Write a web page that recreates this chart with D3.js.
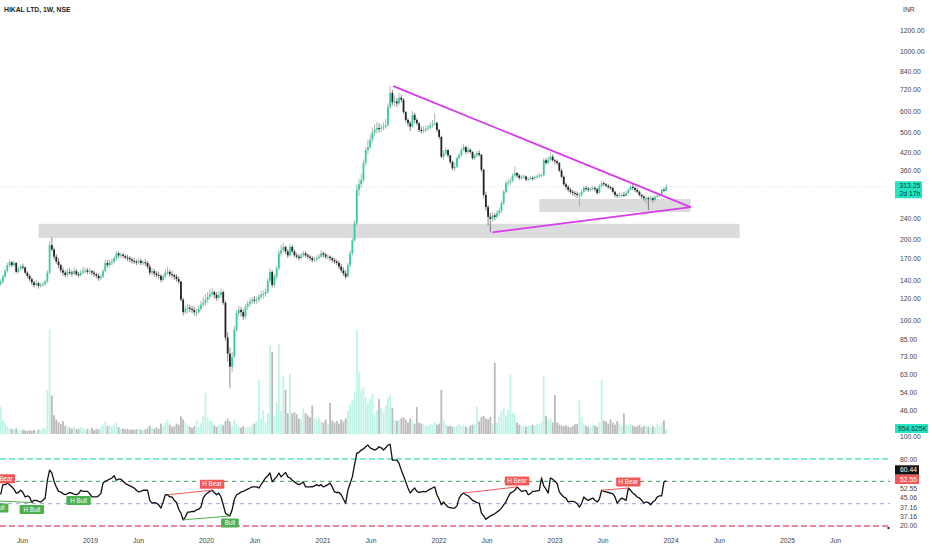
<!DOCTYPE html>
<html>
<head>
<meta charset="utf-8">
<script src="https://cdn.jsdelivr.net/npm/d3@7"></script>
<style>
  body { margin: 0; background: #fff; }
  svg { display: block; font-family: "Liberation Sans", Arial, sans-serif; }
</style>
</head>
<body>
<svg id="chart" width="932" height="550"></svg>
<script>
// weekly candles, first week starting 2018-03-26
var firstWeek = "2018-03-26";

var opens = [
  136,139,145,152,160,164,160,163,151,155,
  158,157,150,146,142,138,135,137,134,135,
  136,139,150,190,183,172,165,160,153,150,
  147,151,150,149,152,148,147,150,152,153,
  151,152,150,148,146,143,145,152,163,160,
  164,165,170,177,174,175,173,171,170,168,
  166,165,164,166,163,164,163,158,150,152,
  149,147,146,141,145,150,151,148,147,145,
  142,139,119,107,110,111,110,109,107,107,
  110,114,116,119,122,125,127,124,121,124,
  127,116,86,75,67,73,92,106,109,107,
  103,112,115,117,119,118,119,122,124,125,
  127,140,151,135,145,156,177,182,187,180,
  174,187,180,174,172,170,174,177,174,172,
  170,167,168,170,172,177,175,172,172,170,
  167,165,163,158,153,149,145,160,177,198,
  229,305,320,332,384,429,440,468,497,510,
  518,515,520,525,531,620,700,645,650,640,
  672,660,594,555,540,524,580,555,540,510,
  505,510,515,520,530,535,541,510,480,405,
  418,429,410,387,367,372,400,410,429,440,
  422,430,422,400,410,418,412,362,292,263,
  242,238,245,242,250,255,272,300,323,325,
  330,345,352,345,338,340,342,333,335,338,
  337,340,342,346,346,393,384,395,405,393,
  390,384,360,341,320,313,305,300,297,295,
  292,292,300,310,308,305,308,310,307,297,
  315,323,320,316,312,310,300,292,290,292,
  292,290,297,305,313,310,305,300,292,288,
  284,284,282,284,280,287,290,292,305,303
];
var highs = [
  142,148,155,163,168,166,166,164,158,161,
  162,158,152,148,144,140,141,139,138,139,
  141,153,196,203,186,176,170,162,157,153,
  155,156,153,157,155,151,154,158,157,156,
  156,154,153,150,149,148,155,168,167,168,
  169,173,181,180,178,178,176,175,173,171,
  170,168,170,169,167,168,166,161,156,155,
  152,151,148,148,155,158,154,152,149,148,
  145,140,121,113,115,114,113,112,110,114,
  118,122,125,127,130,132,129,127,128,131,
  129,118,90,79,76,95,109,113,112,110,
  115,118,121,122,123,122,125,128,129,131,
  143,156,153,148,160,182,190,194,189,183,
  192,190,183,178,176,178,181,180,177,175,
  173,172,174,176,182,180,178,176,174,172,
  170,168,166,162,157,153,163,181,202,235,
  320,335,350,395,440,470,490,520,535,545,
  540,535,545,560,640,742,720,685,670,700,
  690,670,600,565,550,600,590,565,545,525,
  525,530,532,545,555,590,548,515,485,428,
  440,432,412,392,385,405,418,438,452,445,
  440,435,425,415,425,428,415,365,300,268,
  250,252,250,256,262,278,305,330,335,338,
  350,372,356,350,346,348,345,340,344,342,
  345,348,352,350,400,400,405,420,412,398,
  395,388,365,345,325,318,310,305,302,300,
  298,305,315,316,312,312,316,314,310,320,
  330,328,324,320,316,313,303,296,298,297,
  300,302,310,318,320,314,310,303,295,292,
  290,288,290,288,292,295,297,308,310,320
];
var lows = [
  134,137,143,150,157,157,158,149,149,153,
  154,148,143,139,135,132,133,131,132,133,
  134,137,148,180,168,162,156,150,146,144,
  144,147,145,147,146,144,145,148,149,148,
  148,147,145,143,140,141,143,150,157,157,
  160,162,167,170,170,170,168,166,164,162,
  162,160,161,160,160,159,155,147,147,145,
  144,142,138,139,143,147,145,144,141,139,
  136,117,104,105,106,107,106,104,103,105,
  108,112,113,116,119,122,120,118,119,121,
  114,84,70,56,64,72,90,103,103,100,
  101,109,112,114,115,115,116,119,120,122,
  125,137,132,132,142,153,172,178,176,170,
  172,178,171,169,167,167,171,171,169,167,
  164,164,165,168,170,171,169,168,166,164,
  162,160,155,150,146,142,144,157,174,195,
  225,290,310,325,375,415,432,455,485,495,
  500,500,508,515,525,610,630,625,620,630,
  645,585,545,525,505,520,540,530,500,495,
  495,500,505,512,520,528,500,470,400,395,
  410,402,380,360,358,368,395,405,425,415,
  415,415,395,395,405,405,355,285,255,225,
  212,232,235,238,246,250,268,295,315,318,
  325,340,338,332,332,335,328,328,332,330,
  332,335,338,340,342,378,380,390,388,380,
  378,355,336,315,306,300,295,290,288,285,
  265,288,296,302,300,300,303,300,293,295,
  312,316,312,308,305,296,286,284,285,287,
  288,288,294,302,305,300,296,288,282,278,
  270,256,278,274,277,285,287,290,300,302
];
var closes = [
  139,145,152,160,164,160,163,151,155,158,
  157,150,146,142,138,135,137,134,135,136,
  139,150,190,183,172,165,160,153,150,147,
  151,150,149,152,148,147,150,152,153,151,
  152,150,148,146,143,145,152,163,160,164,
  165,170,177,174,175,173,171,170,168,166,
  165,164,166,163,164,163,158,150,152,149,
  147,146,141,145,150,151,148,147,145,142,
  139,119,107,110,111,110,109,107,107,110,
  114,116,119,122,125,127,124,121,124,127,
  116,86,75,67,73,92,106,109,107,103,
  112,115,117,119,118,119,122,124,125,127,
  140,151,135,145,156,177,182,187,180,174,
  187,180,174,172,170,174,177,174,172,170,
  167,168,170,172,177,175,172,172,170,167,
  165,163,158,153,149,145,160,177,198,229,
  305,320,332,384,429,440,468,497,510,518,
  515,520,525,531,620,700,645,650,640,672,
  660,594,555,540,524,580,555,540,510,505,
  510,515,520,530,535,541,510,480,405,418,
  429,410,387,367,372,400,410,429,440,422,
  430,422,400,410,418,412,362,292,263,242,
  238,245,242,250,255,272,300,323,325,330,
  345,352,345,338,340,342,333,335,338,337,
  340,342,346,346,393,384,395,405,393,390,
  384,360,341,320,313,305,300,297,295,292,
  292,300,310,308,305,308,310,307,297,315,
  323,320,316,312,310,300,292,290,292,292,
  290,297,305,313,310,305,300,292,288,284,
  284,282,284,280,287,290,292,305,303,313.25
];
// volume in millions of shares
var volumes = [
  5.2,2.7,2.1,1.5,1.2,1.0,0.9,1.1,0.8,0.7,
  0.8,0.7,0.6,0.7,0.6,0.8,0.6,0.9,0.7,1.2,
  1.0,8.5,20.0,7.4,3.6,2.8,2.3,1.9,2.5,1.6,
  1.5,1.2,1.0,1.4,0.9,1.0,1.3,1.1,0.8,1.0,
  0.9,1.2,0.8,1.0,0.9,1.3,1.8,2.4,1.5,1.6,
  1.4,1.8,2.2,1.3,1.0,1.1,0.9,1.0,0.8,0.9,
  0.8,0.9,1.0,0.8,0.7,0.9,1.1,1.6,1.2,1.0,
  1.3,1.0,2.0,1.6,2.2,2.8,1.8,1.4,1.5,2.0,
  1.8,3.4,2.8,2.2,1.6,1.4,1.2,1.5,2.6,1.3,
  2.0,3.4,7.9,3.2,2.6,2.5,1.6,1.4,1.8,1.9,
  1.7,2.5,3.0,2.4,1.6,2.8,1.9,1.4,1.2,1.5,
  1.2,1.4,1.3,1.8,2.0,2.5,10.4,3.0,4.6,2.2,
  4.0,17.0,15.8,3.5,6.0,17.3,4.4,11.0,8.5,4.0,
  11.5,4.0,4.2,3.8,3.0,2.8,5.0,4.0,3.6,3.2,
  5.5,3.0,2.6,3.2,2.4,2.2,2.8,2.0,6.0,2.6,
  2.2,2.5,2.0,2.8,2.4,3.0,4.5,5.6,6.5,8.0,
  20.0,12.0,8.5,9.0,7.0,6.0,6.8,7.8,3.7,4.5,
  6.7,5.0,4.2,5.6,7.0,7.5,5.0,2.7,2.5,2.7,
  3.0,3.2,2.8,2.2,3.0,2.4,2.0,5.2,2.2,2.0,
  1.8,1.6,1.5,1.9,1.7,2.4,1.8,2.0,8.5,2.6,
  1.8,1.5,1.6,1.4,1.3,1.6,2.0,1.5,1.8,1.4,
  1.3,1.6,1.8,2.0,5.2,2.4,3.3,3.5,3.0,2.8,
  3.3,2.0,13.7,2.2,3.4,4.5,5.0,3.6,4.6,11.5,
  4.2,3.8,2.2,1.8,1.6,1.5,1.4,1.6,1.5,1.8,
  1.6,2.0,1.8,2.4,11.0,3.5,2.8,3.0,2.2,7.5,
  2.2,1.8,1.6,1.5,1.7,1.4,1.3,1.6,1.9,1.9,
  6.5,3.3,2.0,1.6,1.4,1.5,1.8,1.6,1.4,2.2,
  10.4,2.6,2.4,2.0,2.8,2.2,1.8,2.5,2.0,1.6,
  4.0,1.8,1.5,2.0,1.6,1.4,1.5,1.8,1.3,1.5,
  1.6,1.4,1.2,1.5,1.3,2.0,1.6,2.2,2.6,0.954625
];
var rsiValues = [
  48,57,57,58.5,57,55,53,49.5,50,52,
  50,46,47,46,41,43,43,42,41.5,43,
  45,61,70,67.5,60,55,51,50.5,49,48,
  49,50,49.5,48.5,48,49,52,51,51,51,
  49,46,46,46,47,49,58.5,60,61,62,
  63,65,61,62,62,60,58,57,56,55,
  54,52,50.5,51,52,52,52,43,40.5,41,
  40.5,39,36,41.5,48,48,46,46,43,41,
  35,31.5,25.5,28,32.5,32.5,33,33,34.5,35,
  37,45,48,49.5,51,52,50,48,49.5,46,
  39,31.5,30,29,34.5,44,48,49,50.5,51,
  52,53,54,55,55,55,54,57,60,63,
  65,67.5,59.5,62,64,67.5,64,66,68,64,
  63,61,59.5,58,57,58,59.5,55,55,55,
  55,56,57,56,57,55,56,57,58.5,55,
  50.5,50,50,48,44,40.5,52,58,64,75,
  85,86,88,89,91,92.5,90,89,88,89,
  91,90,88,90,92.5,93,79,79,79,76,
  70,65,59.5,54,49.5,52,54,51,50,50.5,
  51,50.5,52,53,54,55,48,44,39,41.5,
  39,37,36.5,36,36,38,45,48,49.5,48,
  47,45,43,42,41,40.5,31.5,29,26,27.5,
  29,30,31,32.5,34,36,39,41.5,46,49.5,
  50.5,52,55,53,51,51.5,52,48,49,51,
  51,51.5,52,63,56,53,49.5,63,62,60,
  58,50.5,48,46,45,41.5,42,42,41.5,40,
  37,40,46,44,43,44,45,43,41.5,44,
  52,51,50.5,50,49.5,49,46,40.5,43,45,
  44,43,54,52,49.5,48,46,45,43,40.5,
  41.5,41,39,41.5,43,46,47,47,59.5,60.44
];

var priceTicks = [1200, 1000, 840, 720, 600, 500, 420, 360, 240, 200, 170, 140, 120, 100, 85, 73, 63, 54, 46];
var lastPrice = 313.25;
var timeLeft = "2d 17h";

// support zones and triangle (dates, price)
var zones = [
  { from: "2018-07-23", to: "2024-08-05", lo: 202, hi: 228 },
  { from: "2022-11-14", to: "2024-03-04", lo: 252, hi: 282 }
];
var triangleTop = [["2021-08-12", 742], ["2024-03-04", 263]];
var triangleBottom = [["2022-06-20", 212], ["2024-03-04", 263]];

// RSI levels and divergence marks (week index, rsi value)
var rsiLevels = [
  { v: 80, color: "#52e3c2", dash: "6,3", w: 1.4 },
  { v: 60, color: "#2f9a55", dash: "4,4", w: 1 },
  { v: 40, color: "#a3a3ea", dash: "4,4", w: 1 },
  { v: 20, color: "#e3637f", dash: "6,3", w: 1.4 }
];
var divLines = [
  [-2, 42.5, 14, 41, "bull"],
  [75, 48, 95, 52, "bear"],
  [82, 25.5, 103, 29, "bull"],
  [208, 49.5, 232, 55, "bear"],
  [270, 52, 282, 54, "bear"]
];
var divLabels = [
  [1, 57, "bear", "H Bear"],
  [-2, 42.5, "bull", "H Bull"],
  [14, 41, "bull", "H Bull"],
  [35, 49, "bull", "H Bull"],
  [95, 52, "bear", "H Bear"],
  [103, 29, "bull", "Bull"],
  [232, 55, "bear", "H Bear"],
  [282, 54, "bear", "H Bear"]
];
var rsiSideLabels = [
  { text: "60.44", bg: "#131313", fg: "#ffffff" },
  { text: "52.55", bg: "#f25858", fg: "#ffffff" },
  { text: "52.55" },
  { text: "45.06" },
  { text: "37.16" },
  { text: "37.16" },
  { text: "20.00" }
];

var parse = d3.timeParse("%Y-%m-%d");
var start = parse(firstWeek);
function weekDate(i) { return d3.timeDay.offset(start, 7 * i); }

var svg = d3.select("#chart");
var plotRight = 890;
var upColor = "#32cea3", downColor = "#242424";
var axisColor = "#444";
var fontSize = 6.8;

var x = d3.scaleTime().domain([new Date(2019, 0, 1), new Date(2025, 0, 1)]).range([90, 787]);
var y = d3.scaleLog().domain([100, 1200]).range([320, 30]);
var yVol = d3.scaleLinear().domain([0, 20]).range([434, 330]);
var yRsi = d3.scaleLinear().domain([20, 80]).range([526, 459]);

var defs = svg.append("defs");
defs.append("clipPath").attr("id", "pricePane").append("rect").attr("x", 0).attr("y", 0).attr("width", plotRight).attr("height", 434);
defs.append("clipPath").attr("id", "rsiPane").append("rect").attr("x", 0).attr("y", 436).attr("width", plotRight).attr("height", 98);

svg.append("rect").attr("width", 932).attr("height", 550).attr("fill", "#fff");

var price = svg.append("g").attr("clip-path", "url(#pricePane)");

// zones
price.selectAll("rect.zone").data(zones).join("rect")
  .attr("class", "zone")
  .attr("x", function(d) { return x(parse(d.from)); })
  .attr("width", function(d) { return x(parse(d.to)) - x(parse(d.from)); })
  .attr("y", function(d) { return y(d.hi); })
  .attr("height", function(d) { return y(d.lo) - y(d.hi); })
  .attr("fill", "#dcdcde");

// last price line
price.append("line")
  .attr("x1", 0).attr("x2", plotRight)
  .attr("y1", y(lastPrice)).attr("y2", y(lastPrice))
  .attr("stroke", "#c3f1e6").attr("stroke-width", 1).attr("stroke-dasharray", "1,2");

var idx = d3.range(closes.length);
var bodyW = 1.8;

// volume
price.selectAll("rect.vol").data(idx).join("rect")
  .attr("class", "vol")
  .attr("x", function(i) { return x(weekDate(i)) - bodyW / 2; })
  .attr("width", bodyW)
  .attr("y", function(i) { return yVol(volumes[i]); })
  .attr("height", function(i) { return yVol(0) - yVol(volumes[i]); })
  .attr("fill", function(i) { return closes[i] >= opens[i] ? "#bff4e9" : "#bababa"; });

// candles
price.selectAll("line.wick").data(idx).join("line")
  .attr("class", "wick")
  .attr("x1", function(i) { return x(weekDate(i)); })
  .attr("x2", function(i) { return x(weekDate(i)); })
  .attr("y1", function(i) { return y(highs[i]); })
  .attr("y2", function(i) { return y(lows[i]); })
  .attr("stroke", function(i) { return closes[i] >= opens[i] ? "#8a9a96" : "#555"; })
  .attr("stroke-width", 0.7);

price.selectAll("rect.body").data(idx).join("rect")
  .attr("class", "body")
  .attr("x", function(i) { return x(weekDate(i)) - bodyW / 2; })
  .attr("width", bodyW)
  .attr("y", function(i) { return y(Math.max(opens[i], closes[i])); })
  .attr("height", function(i) { return Math.max(1, Math.abs(y(opens[i]) - y(closes[i]))); })
  .attr("fill", function(i) { return closes[i] >= opens[i] ? upColor : downColor; });

// triangle
var triLine = d3.line()
  .x(function(d) { return x(parse(d[0])); })
  .y(function(d) { return y(d[1]); });
price.selectAll("path.tri").data([triangleTop, triangleBottom]).join("path")
  .attr("class", "tri")
  .attr("d", triLine)
  .attr("fill", "none")
  .attr("stroke", "#d83aec")
  .attr("stroke-width", 1.8);

// RSI pane
var rsi = svg.append("g").attr("clip-path", "url(#rsiPane)");
rsi.selectAll("line.level").data(rsiLevels).join("line")
  .attr("class", "level")
  .attr("x1", 0).attr("x2", plotRight)
  .attr("y1", function(d) { return yRsi(d.v); })
  .attr("y2", function(d) { return yRsi(d.v); })
  .attr("stroke", function(d) { return d.color; })
  .attr("stroke-width", function(d) { return d.w; })
  .attr("stroke-dasharray", function(d) { return d.dash; });

var rsiLine = d3.line()
  .x(function(d, i) { return x(weekDate(i)); })
  .y(function(d) { return yRsi(d); });
rsi.append("path")
  .attr("d", rsiLine(rsiValues))
  .attr("fill", "none")
  .attr("stroke", "#111")
  .attr("stroke-width", 1.3)
  .attr("stroke-linejoin", "round");

rsi.selectAll("line.div").data(divLines).join("line")
  .attr("class", "div")
  .attr("x1", function(d) { return x(weekDate(d[0])); })
  .attr("y1", function(d) { return yRsi(d[1]); })
  .attr("x2", function(d) { return x(weekDate(d[2])); })
  .attr("y2", function(d) { return yRsi(d[3]); })
  .attr("stroke", function(d) { return d[4] === "bull" ? "#4caf50" : "#f25858"; })
  .attr("stroke-width", 1);

var lab = rsi.selectAll("g.divlab").data(divLabels).join("g")
  .attr("class", "divlab")
  .attr("transform", function(d) {
    var cy = yRsi(d[1]) + (d[2] === "bull" ? 7 : -6);
    return "translate(" + x(weekDate(d[0])) + "," + cy + ")";
  });
lab.append("rect")
  .attr("x", function(d) { return -(d[3].length * 3.4 + 4) / 2; })
  .attr("width", function(d) { return d[3].length * 3.4 + 4; })
  .attr("y", -4.5).attr("height", 9).attr("rx", 1)
  .attr("fill", function(d) { return d[2] === "bull" ? "#4caf50" : "#f25858"; });
lab.append("text")
  .attr("text-anchor", "middle").attr("dy", "0.35em")
  .attr("font-size", 6.3).attr("fill", "#fff")
  .text(function(d) { return d[3]; });

// title
svg.append("text").attr("x", 4).attr("y", 12)
  .attr("font-size", 6.8).attr("font-weight", 600).attr("fill", "#222")
  .text("HIKAL LTD, 1W, NSE");
svg.append("text").attr("x", 903).attr("y", 12)
  .attr("font-size", fontSize).attr("fill", axisColor).text("INR");

// price axis
var priceAxis = d3.axisRight(y).tickValues(priceTicks).tickFormat(d3.format(".2f")).tickSize(0).tickPadding(0);
var pa = svg.append("g").attr("transform", "translate(900,0)").call(priceAxis);
pa.select(".domain").remove();
pa.selectAll("text").attr("font-size", fontSize).attr("fill", axisColor).attr("font-family", "Liberation Sans, Arial, sans-serif");

// last price tag
var tag = svg.append("g").attr("transform", "translate(895," + y(lastPrice) + ")");
tag.append("rect").attr("x", 0).attr("y", -5.5).attr("width", 27).attr("height", 17).attr("fill", "#22e6c2");
tag.append("text").attr("x", 4.5).attr("y", 1.5).attr("font-size", fontSize).attr("fill", "#0b3b33").text(d3.format(".2f")(lastPrice));
tag.append("text").attr("x", 4.5).attr("y", 9.5).attr("font-size", fontSize).attr("fill", "#0b3b33").text(timeLeft);

// volume tag
var lastVol = volumes[volumes.length - 1];
var vt = svg.append("g").attr("transform", "translate(895," + (yVol(lastVol) - 0.5) + ")");
vt.append("rect").attr("x", 0).attr("y", -4.5).attr("width", 33).attr("height", 9).attr("fill", "#22e6c2");
vt.append("text").attr("x", 3).attr("dy", "0.35em").attr("font-size", fontSize).attr("fill", "#0b3b33")
  .text((lastVol * 1000).toFixed(3) + "K");

// RSI axis
var rsiAxis = d3.axisRight(yRsi).tickValues([100, 80]).tickFormat(d3.format(".2f")).tickSize(0).tickPadding(0);
var ra = svg.append("g").attr("transform", "translate(900,0)").call(rsiAxis);
ra.select(".domain").remove();
ra.selectAll("text").attr("font-size", fontSize).attr("fill", axisColor).attr("font-family", "Liberation Sans, Arial, sans-serif");

var sideTop = yRsi(80) + 11, sideBottom = yRsi(20);
var sideStep = (sideBottom - sideTop) / (rsiSideLabels.length - 1);
var side = svg.selectAll("g.side").data(rsiSideLabels).join("g")
  .attr("class", "side")
  .attr("transform", function(d, i) { return "translate(895," + (sideTop + i * sideStep) + ")"; });
side.filter(function(d) { return d.bg; }).append("rect")
  .attr("x", 0).attr("y", -4.7).attr("width", 24).attr("height", 9.4)
  .attr("fill", function(d) { return d.bg; });
side.append("text").attr("x", 5).attr("dy", "0.35em")
  .attr("font-size", fontSize)
  .attr("fill", function(d) { return d.fg || axisColor; })
  .text(function(d) { return d.text; });

svg.append("rect").attr("x", 887.5).attr("y", yRsi(20) + 1).attr("width", 2).attr("height", 2).attr("fill", "#222");

// time axis
var xTicks = [];
d3.range(2018, 2026).forEach(function(yr) {
  if (yr > 2018) xTicks.push(new Date(yr, 0, 1));
  xTicks.push(new Date(yr, 5, 1));
});
var xAxis = d3.axisBottom(x).tickValues(xTicks)
  .tickFormat(function(d) { return d.getMonth() === 0 ? String(d.getFullYear()) : "Jun"; })
  .tickSize(0).tickPadding(0);
var xa = svg.append("g").attr("transform", "translate(0,538)").call(xAxis);
xa.select(".domain").remove();
xa.selectAll("text").attr("font-size", fontSize).attr("fill", axisColor).attr("font-family", "Liberation Sans, Arial, sans-serif");
</script>
</body>
</html>
